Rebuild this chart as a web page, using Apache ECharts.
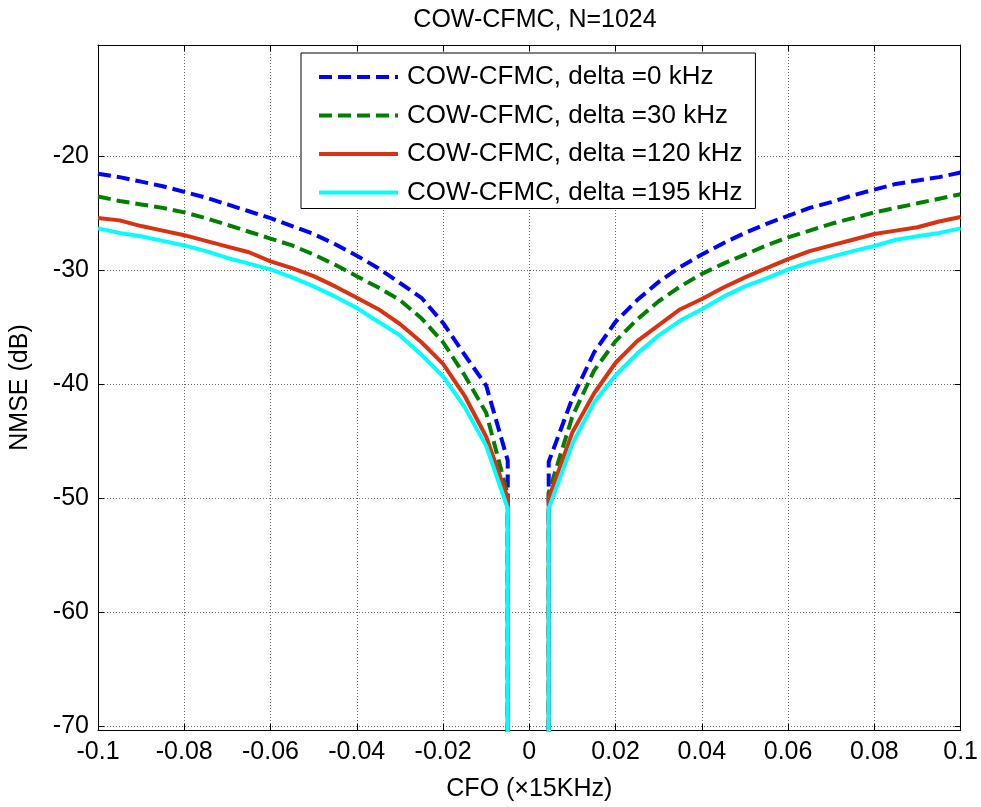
<!DOCTYPE html>
<html>
<head>
<meta charset="utf-8">
<script src="https://cdn.jsdelivr.net/npm/echarts@6/dist/echarts.min.js"></script>
<style>
html,body{margin:0;padding:0;background:#fff;}
#chart{width:981px;height:807px;}
</style>
</head>
<body>
<div id="chart"></div>
<script>
// ---- data ----
const titleText = 'COW-CFMC, N=1024';
const seriesNames = ['COW-CFMC, delta =0 kHz', 'COW-CFMC, delta =30 kHz', 'COW-CFMC, delta =120 kHz', 'COW-CFMC, delta =195 kHz'];
const xLeft = [-0.1, -0.095, -0.09, -0.085, -0.08, -0.075, -0.07, -0.065, -0.06, -0.055, -0.05, -0.045, -0.04, -0.035, -0.03, -0.025, -0.02, -0.015, -0.01, -0.005];
const xRight = [0.0045, 0.01, 0.015, 0.02, 0.025, 0.03, 0.035, 0.04, 0.045, 0.05, 0.055, 0.06, 0.065, 0.07, 0.075, 0.08, 0.085, 0.09, 0.095, 0.1];
// value that the curves fall to at the centre (below the visible range)
const dropValue = -75;

const d0Left  = [-21.5, -21.8, -22.2, -22.6, -23.1, -23.6, -24.2, -24.8, -25.4, -26.1, -26.8, -27.7, -28.7, -29.8, -31.1, -32.4, -34.6, -37.4, -40.1, -46.7];
const d0Right = [-46.8, -41.2, -37.2, -34.5, -32.6, -31.0, -29.7, -28.6, -27.6, -26.7, -25.9, -25.2, -24.5, -24.0, -23.4, -22.9, -22.4, -22.1, -21.8, -21.4];

const d30Left  = [-23.5, -23.9, -24.2, -24.5, -24.9, -25.4, -26.0, -26.6, -27.2, -27.8, -28.6, -29.5, -30.5, -31.5, -32.6, -34.2, -36.3, -39.2, -42.5, -49.7];
const d30Right = [-49.5, -42.8, -38.8, -36.2, -34.3, -32.7, -31.4, -30.3, -29.4, -28.6, -27.8, -27.1, -26.5, -25.9, -25.4, -24.9, -24.5, -24.1, -23.7, -23.3];

const d120Left  = [-25.4, -25.6, -26.1, -26.5, -26.9, -27.4, -27.9, -28.4, -29.2, -29.8, -30.5, -31.4, -32.4, -33.4, -34.7, -36.3, -38.2, -41.0, -44.6, -50.0];
const d120Right = [-50.0, -44.2, -40.8, -38.1, -36.2, -34.8, -33.4, -32.5, -31.5, -30.6, -29.8, -29.0, -28.3, -27.8, -27.3, -26.8, -26.5, -26.2, -25.7, -25.3];

const d195Left  = [-26.3, -26.7, -27.0, -27.4, -27.8, -28.3, -28.9, -29.4, -29.9, -30.6, -31.4, -32.3, -33.3, -34.5, -35.7, -37.4, -39.3, -42.0, -45.4, -50.9];
const d195Right = [-50.9, -45.2, -41.6, -39.2, -37.3, -35.7, -34.4, -33.4, -32.3, -31.4, -30.7, -29.9, -29.3, -28.8, -28.3, -27.85, -27.3, -27.0, -26.7, -26.3];

const xMin = -0.1, xMax = 0.1, xStep = 0.02;
const yMin = -70.35, yMax = -10.2;
const xLabel = 'CFO (\u00d715KHz)';
const yLabel = 'NMSE (dB)';

// ---- build ----
function buildData(left, right) {
  const out = [];
  xLeft.forEach((x, i) => out.push([x, left[i]]));
  out.push([xLeft[xLeft.length - 1], dropValue]);
  out.push([xRight[0], dropValue]);
  xRight.forEach((x, i) => out.push([x, right[i]]));
  return out;
}
const styles = [
  {color: '#0000FF', type: [13, 6]},
  {color: '#007F00', type: [13, 6]},
  {color: '#D93211', type: 'solid'},
  {color: '#00FFFF', type: 'solid'}
];
const values = [[d0Left, d0Right], [d30Left, d30Right], [d120Left, d120Right], [d195Left, d195Right]];
const FONT = 'Liberation Sans, Arial, sans-serif';
const LW = 4;

const series = values.map((v, i) => ({
  name: seriesNames[i],
  type: 'line',
  symbol: 'none',
  showSymbol: false,
  clip: true,
  data: buildData(v[0], v[1]),
  lineStyle: {color: styles[i].color, width: LW, type: styles[i].type},
  itemStyle: {color: styles[i].color},
  z: 2 + i
}));

const chart = echarts.init(document.getElementById('chart'), null, {renderer: 'canvas'});
const gridLine = {show: true, lineStyle: {color: '#666', type: [1, 2], width: 1}};
chart.setOption({
  animation: false,
  backgroundColor: '#fff',
  title: {
    text: titleText, left: 530, top: 3, textAlign: 'center',
    textStyle: {fontFamily: FONT, fontSize: 25, fontWeight: 'normal', color: '#000'}
  },
  grid: {left: 97, right: 18, top: 45, bottom: 75, containLabel: false},
  legend: {
    left: 301, top: 53, orient: 'vertical',
    itemWidth: 79, itemHeight: 14, itemGap: 12.5,
    padding: [11, 13, 3, 16],
    backgroundColor: '#fff', borderColor: '#000', borderWidth: 1, borderRadius: 0,
    itemStyle: {opacity: 0},
    lineStyle: {width: LW},
    textStyle: {fontFamily: FONT, fontSize: 26, color: '#000', padding: [0, 0, 0, 4]},
    data: seriesNames
  },
  xAxis: [{
    type: 'value', min: xMin, max: xMax, interval: xStep, position: 'bottom',
    name: xLabel, nameLocation: 'middle', nameGap: 47,
    nameTextStyle: {fontFamily: FONT, fontSize: 25, color: '#000'},
    axisLine: {show: true, onZero: false, lineStyle: {color: '#000', width: 1}},
    axisTick: {show: true, inside: true, length: 6, lineStyle: {color: '#000'}},
    axisLabel: {fontFamily: FONT, fontSize: 25, color: '#000', margin: 10},
    splitLine: gridLine
  }, {
    type: 'value', min: xMin, max: xMax, interval: xStep, position: 'top',
    axisLine: {show: true, onZero: false, lineStyle: {color: '#000', width: 1}},
    axisTick: {show: true, inside: true, length: 6, lineStyle: {color: '#000'}},
    axisLabel: {show: false}, splitLine: {show: false}
  }],
  yAxis: [{
    type: 'value', min: yMin, max: yMax, splitNumber: 6, position: 'left',
    name: yLabel, nameLocation: 'middle', nameGap: 65, nameRotate: 90,
    nameTextStyle: {fontFamily: FONT, fontSize: 25, color: '#000'},
    axisLine: {show: true, onZero: false, lineStyle: {color: '#000', width: 1}},
    axisTick: {show: true, inside: true, length: 6, lineStyle: {color: '#000'}},
    axisLabel: {fontFamily: FONT, fontSize: 25, color: '#000', margin: 9, showMinLabel: false, showMaxLabel: false},
    splitLine: gridLine
  }, {
    type: 'value', min: yMin, max: yMax, splitNumber: 6, position: 'right',
    axisLine: {show: true, onZero: false, lineStyle: {color: '#000', width: 1}},
    axisTick: {show: true, inside: true, length: 6, lineStyle: {color: '#000'}},
    axisLabel: {show: false}, splitLine: {show: false}
  }],
  series: series
});
</script>
</body>
</html>
